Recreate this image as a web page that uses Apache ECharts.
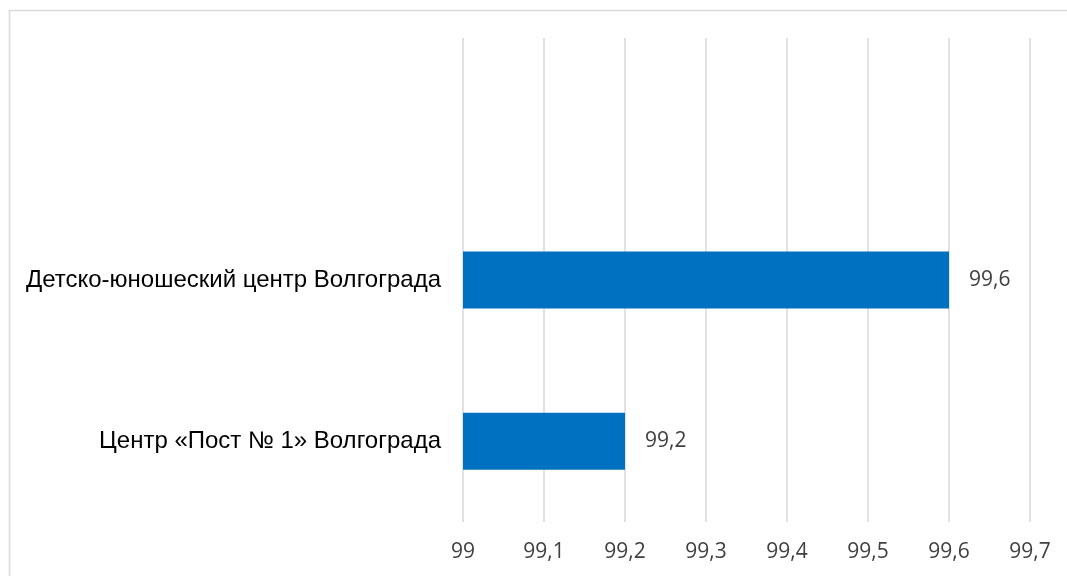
<!DOCTYPE html>
<html><head><meta charset="utf-8">
<script src="https://cdn.jsdelivr.net/npm/echarts@6/dist/echarts.min.js"></script>
<style>html,body{margin:0;padding:0;background:#fff}#c{width:1067px;height:576px}</style>
</head><body><div id="c"></div>
<script>
const categories = ["Центр «Пост № 1» Волгограда", "Детско-юношеский центр Волгограда", ""];
const values = [99.2, 99.6, null];
const xTicks = [99, 99.1, 99.2, 99.3, 99.4, 99.5, 99.6, 99.7];

const fmt = v => String(Math.round(v * 10) / 10).replace('.', ',');
const chart = echarts.init(document.getElementById('c'), null, {renderer: 'canvas'});
chart.setOption({
  animation: false,
  backgroundColor: '#fff',
  graphic: [{
    type: 'rect', shape: {x: 9.5, y: 10.5, width: 1200, height: 700},
    style: {fill: 'none', stroke: '#d9d9d9', lineWidth: 1.5}, silent: true, z: -1
  }],
  grid: {left: 463, right: 37, top: 38, bottom: 54, containLabel: false},
  xAxis: {
    type: 'value', min: xTicks[0], max: xTicks[xTicks.length - 1], interval: 0.1,
    axisLine: {show: false}, axisTick: {show: false},
    splitLine: {show: true, lineStyle: {color: '#d9d9d9', width: 1.5}},
    axisLabel: {formatter: fmt, color: '#404040', fontFamily: 'Open Sans', fontSize: 21, margin: 20}
  },
  yAxis: {
    type: 'category', data: categories,
    axisLine: {show: false}, axisTick: {show: false},
    axisLabel: {color: '#000', fontFamily: 'Liberation Sans', fontSize: 24, margin: 22}
  },
  series: [{
    type: 'bar', data: values, barWidth: 57,
    itemStyle: {color: '#0070C0'},
    label: {show: true, position: 'right', distance: 20, formatter: p => fmt(p.value),
      color: '#404040', fontFamily: 'Open Sans', fontSize: 21}
  }]
});
</script></body></html>
